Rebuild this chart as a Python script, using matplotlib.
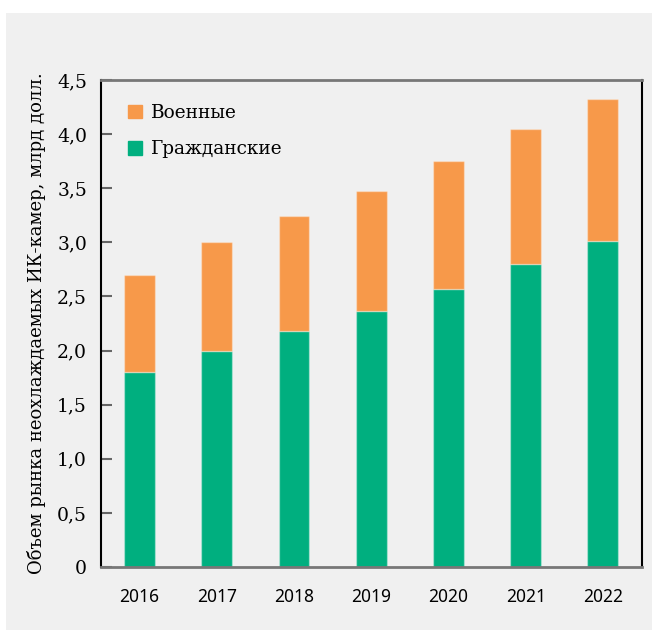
import numpy as np
import matplotlib.pyplot as plt
from matplotlib.patches import Rectangle, Patch

years = ["2016", "2017", "2018", "2019", "2020", "2021", "2022"]
civil = [1.80, 2.00, 2.18, 2.37, 2.57, 2.80, 3.01]
total = [2.70, 3.00, 3.24, 3.47, 3.75, 4.05, 4.32]
military = [t - c for t, c in zip(total, civil)]
yticks = [0, 0.5, 1.0, 1.5, 2.0, 2.5, 3.0, 3.5, 4.0, 4.5]
ytick_labels = ["0", "0,5", "1,0", "1,5", "2,0", "2,5", "3,0", "3,5", "4,0", "4,5"]

green = "#00af7f"
orange = "#f7994a"
bg = "#f0f0f0"

plt.rcParams['font.family'] = ['DejaVu Serif']

fig = plt.figure(figsize=(6.52, 6.30), dpi=100)
fig.add_artist(Rectangle((6/652, 0), 1 - 6/652, 1 - 13/630, transform=fig.transFigure,
                         facecolor=bg, edgecolor='none', zorder=-10))

ax = fig.add_axes([101/652, 63/630, 540.5/652, 487/630])
ax.set_facecolor(bg)

x = np.arange(len(years))
w = 0.4
ax.bar(x, civil, w, color=green, edgecolor='#ffffff55', linewidth=1, label="Гражданские", zorder=2)
ax.bar(x, military, w, bottom=civil, color=orange, edgecolor='#ffffff55', linewidth=1, label="Военные", zorder=2)

ax.set_xlim(-0.5, len(years) - 0.5)
ax.set_ylim(0, 4.5)
ax.set_xticks(x)
ax.set_xticklabels(years, fontsize=12.5, family=['Noto Sans', 'DejaVu Sans'])
ax.tick_params(axis='x', length=0, pad=15)
ax.set_yticks(yticks)
ax.set_yticklabels(ytick_labels, fontsize=13.5)
ax.tick_params(axis='y', direction='in', length=8, width=1.5, color='#666666', pad=10)

for s in ['left', 'right']:
    ax.spines[s].set_color('black')
    ax.spines[s].set_linewidth(1.5)
for s in ['top', 'bottom']:
    ax.spines[s].set_color('#777777')
    ax.spines[s].set_linewidth(2)

ax.set_ylabel("Объем рынка неохлаждаемых ИК-камер, млрд долл.", fontsize=13, labelpad=8)

handles = [Patch(color=orange), Patch(color=green)]
ax.legend(handles, ["Военные", "Гражданские"], loc='upper left', frameon=False, fontsize=13.3,
          handlelength=0.75, handleheight=0.75, handletextpad=0.5, labelspacing=1.0,
          bbox_to_anchor=(0.019, 0.985))

fig.savefig("out.png", dpi=100)
